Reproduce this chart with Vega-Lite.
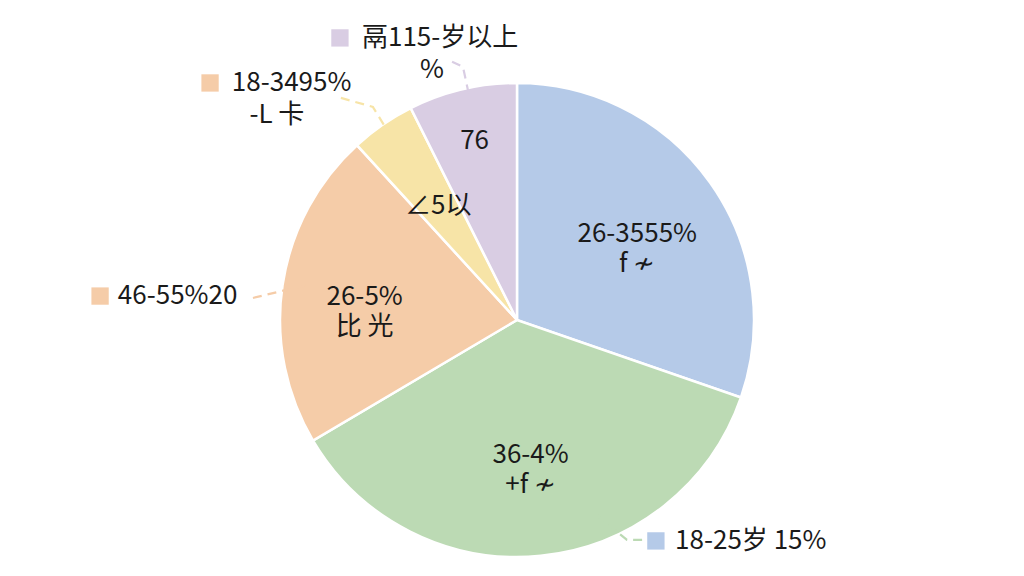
{
  "$schema": "https://vega.github.io/schema/vega-lite/v6.json",
  "width": 1014,
  "height": 512,
  "autosize": {"type": "none"},
  "padding": {"left": 10, "top": 64, "right": 0, "bottom": 0},
  "background": "#ffffff",
  "config": {"view": {"stroke": null}, "font": "Noto Sans CJK SC"},
  "datasets": {
    "slices": [
      {"cat": "26-35岁", "value": 30.3, "ord": 1, "lr": 0.623, "label": "26-3555%\nf  ≁"},
      {"cat": "36-45岁", "value": 36.2, "ord": 2, "lr": 0.571, "label": "36-4%\n+f  ≁"},
      {"cat": "46-55岁", "value": 21.7, "ord": 3, "lr": 0.65, "label": "26-5%\n比  光"},
      {"cat": "56-65岁", "value": 4.4, "ord": 4, "lr": 0.586, "label": "∠5以"},
      {"cat": "65岁以上", "value": 7.4, "ord": 5, "lr": 0.776, "label": "76"}
    ],
    "leaders": [
      {"id": "a", "o": 1, "x": -0.274, "y": 1.089, "cat": "65岁以上"},
      {"id": "a", "o": 2, "x": -0.228, "y": 1.068, "cat": "65岁以上"},
      {"id": "a", "o": 3, "x": -0.198, "y": 0.928, "cat": "65岁以上"},
      {"id": "b", "o": 1, "x": -0.743, "y": 0.937, "cat": "56-65岁"},
      {"id": "b", "o": 2, "x": -0.608, "y": 0.899, "cat": "56-65岁"},
      {"id": "b", "o": 3, "x": -0.536, "y": 0.781, "cat": "56-65岁"},
      {"id": "c", "o": 1, "x": -1.114, "y": 0.093, "cat": "46-55岁"},
      {"id": "c", "o": 2, "x": -0.886, "y": 0.148, "cat": "46-55岁"},
      {"id": "d", "o": 1, "x": 0.338, "y": -0.823, "cat": "36-45岁"},
      {"id": "d", "o": 2, "x": 0.464, "y": -0.928, "cat": "36-45岁"},
      {"id": "d", "o": 3, "x": 0.54, "y": -0.928, "cat": "36-45岁"}
    ],
    "squares": [
      {"x": -0.747, "y": 1.19, "cat": "65岁以上"},
      {"x": -1.295, "y": 1.0, "cat": "46-55岁"},
      {"x": -1.759, "y": 0.101, "cat": "46-55岁"},
      {"x": 0.586, "y": -0.932, "cat": "26-35岁"}
    ],
    "labels": [
      {"x": -0.654, "y": 1.19, "text": "鬲115-岁以上", "al": "left"},
      {"x": -0.359, "y": 1.055, "text": "%", "al": "center"},
      {"x": -1.203, "y": 1.0, "text": "18-3495%", "al": "left"},
      {"x": -1.013, "y": 0.865, "text": "-L  卡", "al": "center"},
      {"x": -1.684, "y": 0.101, "text": "46-55%20", "al": "left"},
      {"x": 0.667, "y": -0.932, "text": "18-25岁  15%", "al": "left"}
    ]
  },
  "layer": [
    {
      "data": {"name": "slices"},
      "mark": {"type": "arc", "outerRadius": 237, "stroke": "#ffffff", "strokeWidth": 2.5},
      "encoding": {
        "theta": {"field": "value", "type": "quantitative", "stack": true},
        "order": {"field": "ord", "type": "quantitative"},
        "color": {
          "field": "cat", "type": "nominal",
          "scale": {
            "domain": ["26-35岁", "36-45岁", "46-55岁", "56-65岁", "65岁以上"],
            "range": ["#b5cae8", "#bcdab4", "#f5cca8", "#f7e4a7", "#d9cde3"]
          },
          "legend": null
        }
      }
    },
    {
      "data": {"name": "leaders"},
      "mark": {"type": "line", "strokeDash": [9, 6], "strokeWidth": 2.2},
      "encoding": {
        "x": {"field": "x", "type": "quantitative", "scale": {"domain": [-2.139, 2.139], "nice": false, "zero": false}, "axis": null},
        "y": {"field": "y", "type": "quantitative", "scale": {"domain": [-1.08, 1.08], "nice": false, "zero": false}, "axis": null},
        "detail": {"field": "id"},
        "order": {"field": "o", "type": "quantitative"},
        "color": {"field": "cat", "type": "nominal", "legend": null}
      }
    },
    {
      "data": {"name": "slices"},
      "mark": {"type": "text", "fontSize": 26, "lineBreak": "\n", "lineHeight": 30, "color": "#1a1a1a", "baseline": "middle", "radius": {"expr": "datum.lr * 237"}},
      "encoding": {
        "theta": {"field": "value", "type": "quantitative", "stack": true},
        "order": {"field": "ord", "type": "quantitative"},
        "detail": {"field": "cat", "type": "nominal"},
        "text": {"field": "label"}
      }
    },
    {
      "data": {"name": "squares"},
      "mark": {"type": "point", "shape": "square", "filled": true, "size": 300, "opacity": 1},
      "encoding": {
        "x": {"field": "x", "type": "quantitative"},
        "y": {"field": "y", "type": "quantitative"},
        "color": {"field": "cat", "type": "nominal", "legend": null}
      }
    },
    {
      "data": {"name": "labels"},
      "transform": [{"filter": "datum.al == 'left'"}],
      "mark": {"type": "text", "fontSize": 26, "align": "left", "baseline": "middle", "color": "#1a1a1a"},
      "encoding": {
        "x": {"field": "x", "type": "quantitative"},
        "y": {"field": "y", "type": "quantitative"},
        "text": {"field": "text"}
      }
    },
    {
      "data": {"name": "labels"},
      "transform": [{"filter": "datum.al == 'center'"}],
      "mark": {"type": "text", "fontSize": 26, "align": "center", "baseline": "middle", "color": "#1a1a1a"},
      "encoding": {
        "x": {"field": "x", "type": "quantitative"},
        "y": {"field": "y", "type": "quantitative"},
        "text": {"field": "text"}
      }
    }
  ]
}
